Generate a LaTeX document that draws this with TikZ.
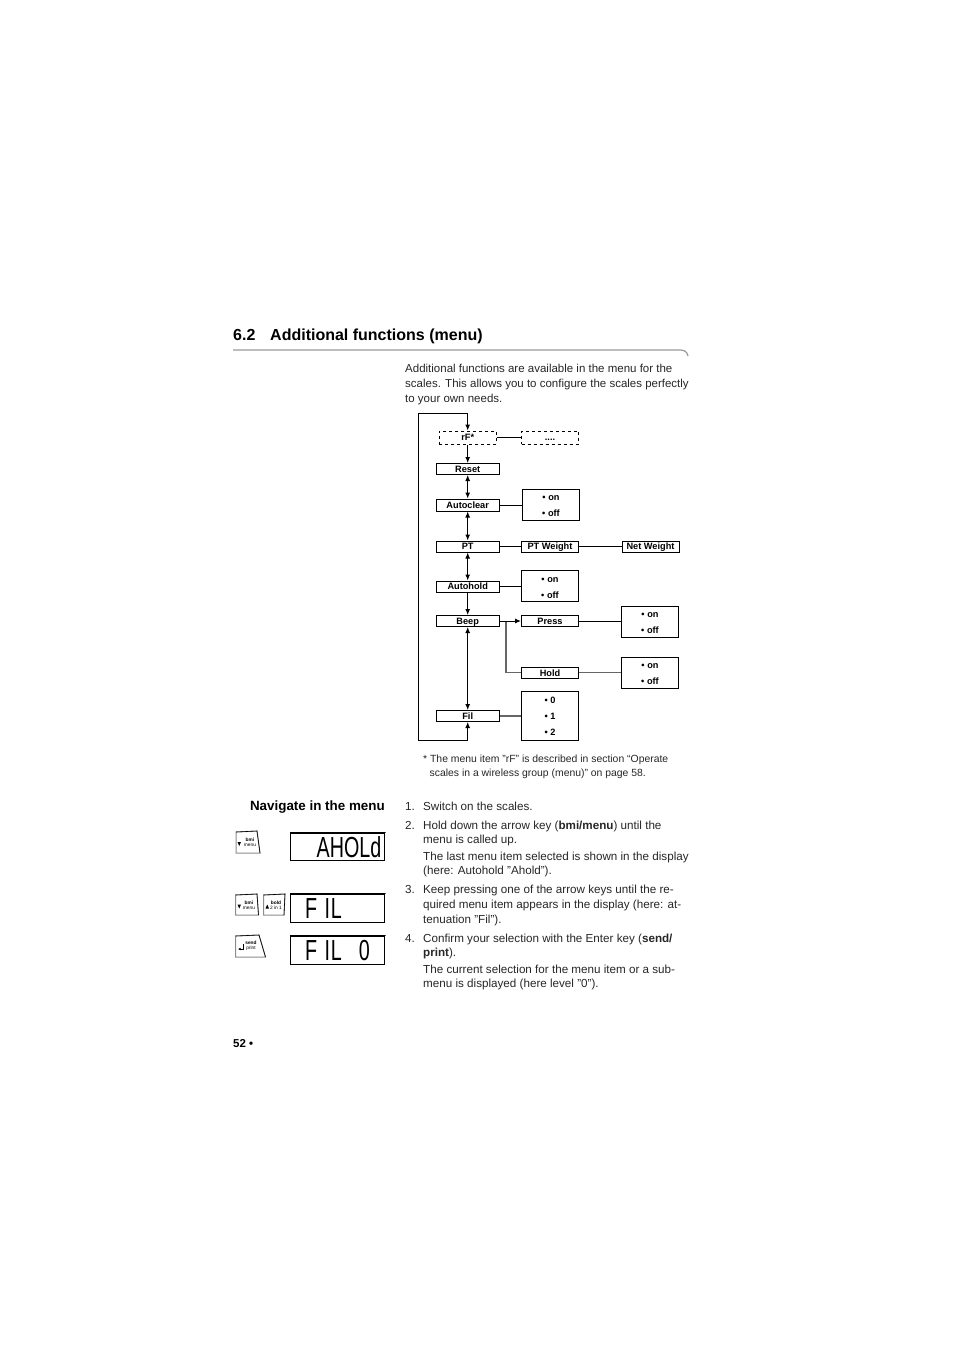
\documentclass[tikz,border=0pt]{standalone}
\usepackage{fontspec}
\setmainfont{Liberation Sans}[Ligatures=ResetAll]
\newfontfamily\lcdfont{Liberation Sans}[Ligatures=ResetAll]
\usetikzlibrary{arrows.meta}
\newcommand{\optstrut}{\rule{0pt}{8.6pt}}
\tikzset{
  menubox/.style={draw,line width=1pt,inner sep=0pt,font=\fontsize{9.2}{10}\selectfont\bfseries},
  itembox/.style={menubox,text height=7.6pt,text depth=1pt},
  dashbox/.style={itembox,dashed},
  optbox/.style={menubox,align=center},
  flow/.style={line width=1pt,-{Latex[length=6pt,width=5pt]}},
  flowboth/.style={line width=1pt,{Latex[length=6pt,width=5pt]}-{Latex[length=6pt,width=5pt]}},
  link/.style={line width=1pt},
  linkgray/.style={line width=1.3pt,black!60},
  bodytext/.style={inner sep=0pt,align=left,anchor=base west,text=black!85,font=\fontsize{11.5}{14.9}\selectfont},
  steptext/.style={bodytext,font=\fontsize{11.65}{14.9}\selectfont},
  notetext/.style={inner sep=0pt,anchor=base west,text=black!85,font=\fontsize{10.4}{14}\selectfont},
  lcdbox/.style={draw,line width=0.8pt},
  lcdedge/.style={line width=1.5pt,line cap=round},
  lcdtext/.style={inner sep=0pt,anchor=base east,font=\fontsize{29}{29}\lcdfont,xscale=0.68},
  keytext/.style={inner sep=0pt,font=\fontsize{4.8}{5.2}\selectfont},
  keyshape/.style={draw=black!45,line width=1pt},
  keyedge/.style={line width=0.6pt}
}
\begin{document}
\begin{tikzpicture}[x=1pt,y=-1pt]
  \useasboundingbox (0,0) rectangle (954,1347);
  %titolo
  \node[inner sep=0pt,anchor=base west,font=\fontsize{16}{20}\selectfont\bfseries] (secnum) at (233,340) {6.2};
  \node[inner sep=0pt,anchor=base west,font=\fontsize{16}{20}\selectfont\bfseries] (sectitle) at (270,340) {Additional functions (menu)};
  \draw[black!40,line width=1.2pt] (233,350) -- (680,350) .. controls (685,350) and (687,352) .. (688,356);
  \node[bodytext] (intro1) at (405,372) {Additional functions are available in the menu for the};
  \node[bodytext] (intro2) at (405,387) {scales. This allows you to configure the scales perfectly};
  \node[bodytext] (intro3) at (405,402) {to your own needs.};
  %caselle del menu
  \node[dashbox,minimum width=57pt,minimum height=13pt] (rf) at (467.7,437.5) {rF*};
  \node[dashbox,minimum width=57pt,minimum height=13pt] (dots) at (550,437.5) {....};
  \node[itembox,minimum width=63pt,minimum height=11pt] (reset) at (467.7,469) {Reset};
  \node[itembox,minimum width=63pt,minimum height=12pt] (autoclear) at (467.7,505) {Autoclear};
  \node[itembox,minimum width=63pt,minimum height=11pt] (pt) at (467.7,546.5) {PT};
  \node[itembox,minimum width=63pt,minimum height=11pt] (autohold) at (467.7,586.5) {Autohold};
  \node[itembox,minimum width=63pt,minimum height=11pt] (beep) at (467.7,621) {Beep};
  \node[itembox,minimum width=63pt,minimum height=11pt] (fil) at (467.7,716) {Fil};
  %seconda colonna
  \node[optbox,minimum width=57pt,minimum height=31pt] (clearopt) at (551,504.5) {\optstrut• on\\[6pt]• off};
  \node[itembox,minimum width=57pt,minimum height=11pt] (ptweight) at (550,546.5) {PT Weight};
  \node[optbox,minimum width=57pt,minimum height=31pt] (holdopt) at (550,586) {\optstrut• on\\[6pt]• off};
  \node[itembox,minimum width=57pt,minimum height=11pt] (press) at (550,621) {Press};
  \node[itembox,minimum width=57pt,minimum height=11pt] (hold) at (550,672.7) {Hold};
  \node[optbox,minimum width=57pt,minimum height=49pt] (filopt) at (550,716) {• 0\\[6pt]• 1\\[6pt]• 2};
  %terza colonna
  \node[itembox,minimum width=57pt,minimum height=11pt] (netweight) at (650.5,546.5) {Net Weight};
  \node[optbox,minimum width=57pt,minimum height=31pt] (pressopt) at (650,621.5) {\optstrut• on\\[6pt]• off};
  \node[optbox,minimum width=57pt,minimum height=31pt] (holdsub) at (650,672.7) {\optstrut• on\\[6pt]• off};
  %frecce
  \coordinate (looptop) at (418,413.5);
  \coordinate (loopbot) at (418,740);
  \coordinate (branch) at (506,621);
  \draw[flow] (looptop) -- (467.7,413.5) -- (rf.north);
  \draw[flow] (rf) -- (reset);
  \draw[flowboth] (reset) -- (autoclear);
  \draw[flowboth] (autoclear) -- (pt);
  \draw[flowboth] (pt) -- (autohold);
  \draw[flow] (autohold) -- (beep);
  \draw[flowboth] (beep) -- (fil);
  \draw[flow] (looptop) -- (loopbot) -- (467.7,740) -- (fil.south);
  %collegamenti
  \draw[link] (rf) -- (dots);
  \draw[link] (autoclear) -- (clearopt.west |- autoclear);
  \draw[link] (pt) -- (ptweight);
  \draw[link] (ptweight) -- (netweight);
  \draw[link] (autohold) -- (holdopt.west |- autohold);
  \draw[linkgray] (branch) |- (hold);
  \draw[flow] (beep) -- (press);
  \draw[link] (press) -- (pressopt.west |- press);
  \draw[linkgray] (hold) -- (holdsub);
  \draw[linkgray] (fil) -- (filopt);
  %nota
  \node[notetext] (note1) at (423,762) {* The menu item "rF" is described in section “Operate};
  \node[notetext] (note2) at (429.5,776) {scales in a wireless group (menu)" on page 58.};
  %istruzioni
  \node[inner sep=0pt,anchor=base east,font=\fontsize{13.4}{15}\selectfont\bfseries] (navigate) at (385,810) {Navigate in the menu};
  \node[steptext] (num1) at (405,810) {1.};
  \node[steptext] (step1) at (423,810) {Switch on the scales.};
  \node[steptext] (num2) at (405,829) {2.};
  \node[steptext] (step2a) at (423,829) {Hold down the arrow key (\textbf{bmi/menu}) until the};
  \node[steptext] (step2b) at (423,843) {menu is called up.};
  \node[steptext] (step2c) at (423,860) {The last menu item selected is shown in the display};
  \node[steptext] (step2d) at (423,874) {(here: Autohold "Ahold").};
  \node[steptext] (num3) at (405,893) {3.};
  \node[steptext] (step3a) at (423,893) {Keep pressing one of the arrow keys until the re-};
  \node[steptext] (step3b) at (423,908) {quired menu item appears in the display (here: at-};
  \node[steptext] (step3c) at (423,923) {tenuation "Fil").};
  \node[steptext] (num4) at (405,942) {4.};
  \node[steptext] (step4a) at (423,942) {Confirm your selection with the Enter key (\textbf{send/}};
  \node[steptext] (step4b) at (423,956) {\textbf{print}).};
  \node[steptext] (step4c) at (423,973) {The current selection for the menu item or a sub-};
  \node[steptext] (step4d) at (423,987) {menu is displayed (here level "0").};
  %tasti
  \draw[keyshape] (236,832) -- (257,831) -- (260,853) -- (236,853) -- cycle;
  \draw[keyshape] (235.5,895) -- (257,894) -- (258.5,915) -- (235.5,915) -- cycle;
  \draw[keyshape] (263.5,895) -- (285,894) -- (284,915) -- (263.5,915) -- cycle;
  \draw[keyshape] (235.5,936) -- (259,935) -- (265.5,957) -- (235.5,957) -- cycle;
  \draw[keyedge] (236,832) -- (257,831) -- (260,853);
  \draw[keyedge] (235.5,895) -- (257,894) -- (258.5,915);
  \draw[keyedge] (263.5,895) -- (285,894) -- (284,915);
  \draw[keyedge] (235.5,936) -- (259,935) -- (265.5,957);
  \node[keytext,align=center] (keya) at (250,842.5) {\textbf{bmi}\\menu};
  \node[keytext,align=center] (keyb) at (249,905) {\textbf{bmi}\\menu};
  \node[keytext,align=center] (keyc) at (276,905) {\textbf{bold}\\2 in 1};
  \node[keytext,align=center] (keyd) at (251,946) {\textbf{send}\\print};
  \fill (237.5,842) -- (241,842) -- (239.25,846) -- cycle;
  \fill (237.5,904.5) -- (241,904.5) -- (239.25,908.5) -- cycle;
  \fill (265.5,908.5) -- (269,908.5) -- (267.25,904.5) -- cycle;
  \draw[line width=0.9pt,-{Latex[length=2.5pt,width=2.5pt]}] (243,944) -- (243,949) -- (238,949);
  %display
  \node[lcdbox,minimum width=94pt,minimum height=27pt,inner sep=0pt] (lcda) at (337.7,846.5) {};
  \node[lcdbox,minimum width=94pt,minimum height=28pt,inner sep=0pt] (lcdb) at (337.7,908) {};
  \node[lcdbox,minimum width=94pt,minimum height=28pt,inner sep=0pt] (lcdc) at (337.7,950) {};
  \draw[lcdedge] (lcda.south west) -- (lcda.north west) -- (lcda.north east);
  \draw[lcdedge] (lcdb.south west) -- (lcdb.north west) -- (lcdb.north east);
  \draw[lcdedge] (lcdc.south west) -- (lcdc.north west) -- (lcdc.north east);
  \node[lcdtext] (lcdaval) at (381.5,857) {AHOLd};
  \node[lcdtext,anchor=base west] (lcdbval) at (305,918) {F\ \hspace{3pt}I\hspace{1pt}L};
  \node[lcdtext,anchor=base west] (lcdcval) at (305,960) {F\ \hspace{3pt}I\hspace{1pt}L\ \hspace{17pt}0};
  %pagina
  \node[inner sep=0pt,anchor=base west,font=\fontsize{11.5}{14}\selectfont\bfseries] (pagenum) at (233,1047) {52 •};
\end{tikzpicture}
\end{document}
